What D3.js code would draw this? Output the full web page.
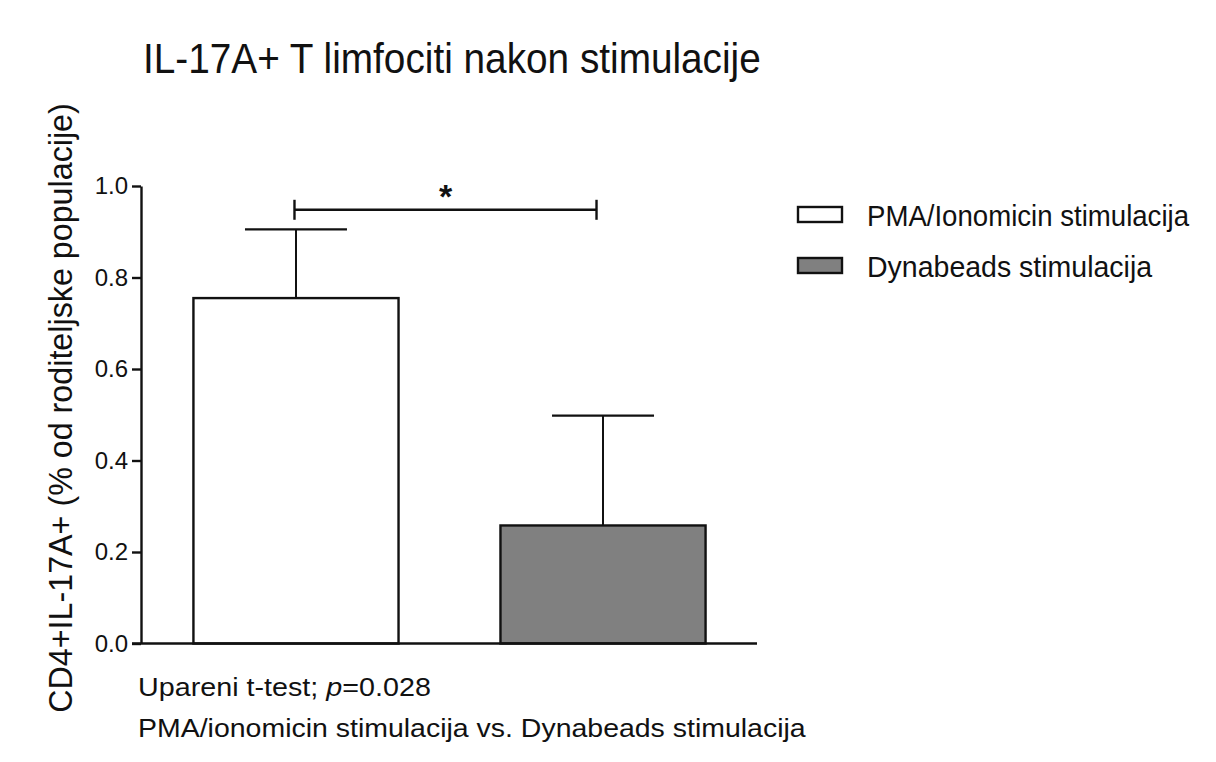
<!DOCTYPE html>
<html><head><meta charset="utf-8">
<script src="https://cdn.jsdelivr.net/npm/d3@7"></script>
<style>body{margin:0;background:#fff}text{font-family:Arial,"Liberation Sans",sans-serif;fill:#111}</style>
</head><body><svg id="c" width="1216" height="762"></svg>
<script>
const categories = ["PMA/Ionomicin stimulacija", "Dynabeads stimulacija"];
const means = [0.755, 0.258];
const sds = [0.150, 0.240];
const fills = ["#ffffff", "#808080"];
const yTicks = [0.0, 0.2, 0.4, 0.6, 0.8, 1.0];
const title = "IL-17A+ T limfociti nakon stimulacije";
const yLabel = "CD4+IL-17A+ (% od roditeljske populacije)";
const note1 = "Upareni t-test; ";
const noteP = "p=0.028";
const note2 = "PMA/ionomicin stimulacija vs. Dynabeads stimulacija";

const svg = d3.select("#c");
svg.append("rect").attr("width",1216).attr("height",762).attr("fill","#fff");

// place a text element so that its natural width is compressed to a target width
function fit(t, x, y, width, rot){
  const w = t.node().getBBox().width;
  const s = width / w;
  if (rot) t.attr("transform",`translate(${x},${y}) rotate(-90) scale(${s},1)`);
  else t.attr("transform",`translate(${x},${y}) scale(${s},1)`);
  return t;
}

const x0 = 141, x1 = 757, yTop = 186, yBot = 643.5;
const y = d3.scaleLinear().domain([0,1]).range([yBot, yTop]);
const x = d3.scaleBand().domain(categories).range([142, 757]).paddingInner(0.332).paddingOuter(0.1675);

// title
fit(svg.append("text").attr("font-size",43).text(title), 143, 73, 618);

// y axis
const yAxis = d3.axisLeft(y).tickValues(yTicks).tickFormat(d3.format(".1f")).tickSize(9).tickSizeOuter(0).tickPadding(4);
const ga = svg.append("g").attr("transform",`translate(${x0},0)`).call(yAxis);
ga.select(".domain").attr("stroke","#111").attr("stroke-width",2.4);
ga.selectAll(".tick line").attr("stroke","#111").attr("stroke-width",2.4);
ga.selectAll(".tick text").attr("font-size",24).attr("font-family",'Arial,"Liberation Sans",sans-serif').attr("fill","#111");

// y label
fit(svg.append("text").attr("text-anchor","middle").attr("font-size",34).text(yLabel), 72, 408, 610, true);

// bars
svg.selectAll("rect.bar").data(categories).enter().append("rect").attr("class","bar")
  .attr("x",d=>x(d)).attr("width",x.bandwidth())
  .attr("y",(d,i)=>y(means[i])).attr("height",(d,i)=>y(0)-y(means[i]))
  .attr("fill",(d,i)=>fills[i]).attr("stroke","#111").attr("stroke-width",2.4);

// error bars
categories.forEach((c,i)=>{
  const cx = x(c)+x.bandwidth()/2;
  svg.append("line").attr("x1",cx).attr("x2",cx).attr("y1",y(means[i])).attr("y2",y(means[i]+sds[i]))
    .attr("stroke","#111").attr("stroke-width",2);
  svg.append("line").attr("x1",cx-51).attr("x2",cx+51).attr("y1",y(means[i]+sds[i])).attr("y2",y(means[i]+sds[i]))
    .attr("stroke","#111").attr("stroke-width",2.2);
});

// x axis baseline
svg.append("line").attr("x1",x0-9).attr("x2",x1).attr("y1",y(0)).attr("y2",y(0)).attr("stroke","#111").attr("stroke-width",2.6);

// significance bracket
const bx1 = x(categories[0])+x.bandwidth()/2-1.5, bx2 = x(categories[1])+x.bandwidth()/2-6.5;
const by = y(0.948);
svg.append("line").attr("x1",bx1).attr("x2",bx2).attr("y1",by).attr("y2",by).attr("stroke","#111").attr("stroke-width",2.4);
[bx1,bx2].forEach(bx=>svg.append("line").attr("x1",bx).attr("x2",bx).attr("y1",by-10).attr("y2",by+10).attr("stroke","#111").attr("stroke-width",2.4));
svg.append("text").attr("x",(bx1+bx2)/2).attr("y",by-2).attr("text-anchor","middle").attr("font-size",34).attr("font-weight","bold").text("*");

// legend
const legendW = [323, 286];
categories.forEach((c,i)=>{
  const ly = 207 + i*51;
  svg.append("rect").attr("x",798).attr("y",ly).attr("width",44).attr("height",15)
    .attr("fill",fills[i]).attr("stroke","#111").attr("stroke-width",2.4);
  fit(svg.append("text").attr("font-size",29).text(c), 867, ly+19, legendW[i]);
});

// bottom notes
const t1 = svg.append("text").attr("font-size",26.5);
t1.append("tspan").text(note1);
t1.append("tspan").attr("font-style","italic").text(noteP.slice(0,1));
t1.append("tspan").text(noteP.slice(1));
fit(t1, 138, 696, 293);
fit(svg.append("text").attr("font-size",26.5).text(note2), 138, 737, 668);
</script></body></html>
